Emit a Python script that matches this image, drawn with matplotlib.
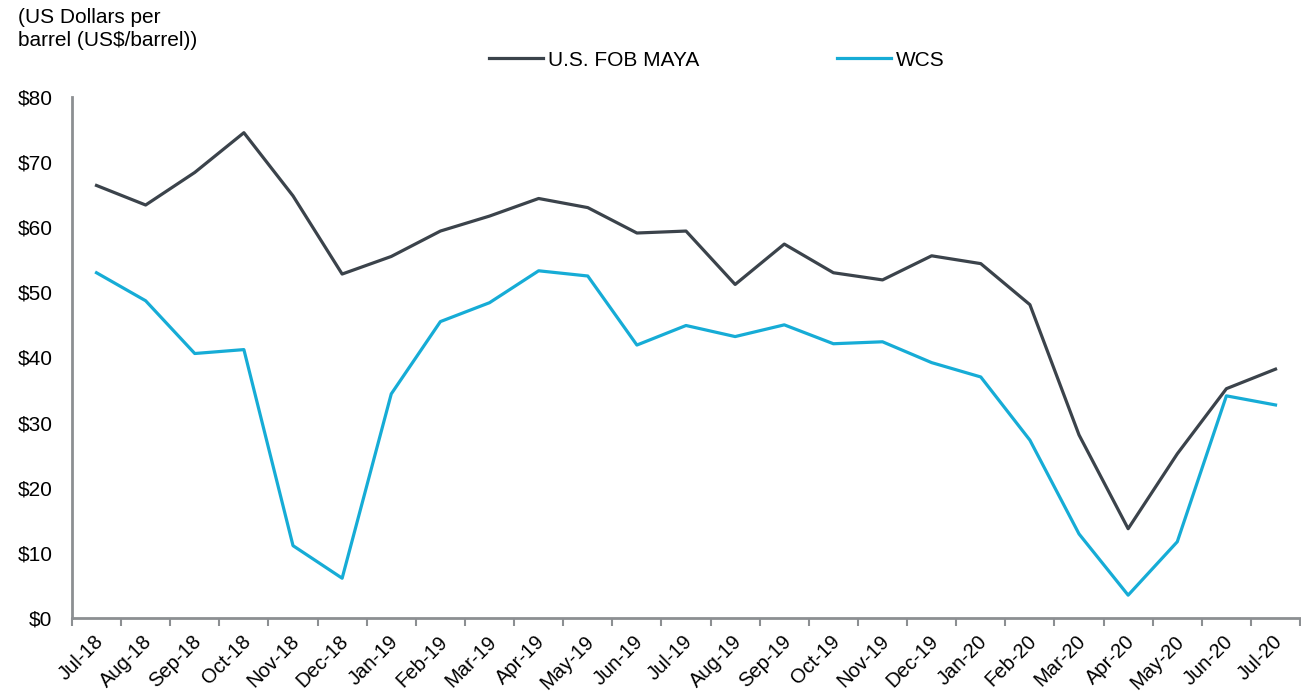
import matplotlib.pyplot as plt
import matplotlib.transforms as mtransforms
import numpy as np

plt.rcParams['font.family'] = ['Liberation Sans', 'DejaVu Sans']

months = ['Jul-18', 'Aug-18', 'Sep-18', 'Oct-18', 'Nov-18', 'Dec-18',
          'Jan-19', 'Feb-19', 'Mar-19', 'Apr-19', 'May-19', 'Jun-19',
          'Jul-19', 'Aug-19', 'Sep-19', 'Oct-19', 'Nov-19', 'Dec-19',
          'Jan-20', 'Feb-20', 'Mar-20', 'Apr-20', 'May-20', 'Jun-20', 'Jul-20']
maya = [66.4, 63.4, 68.4, 74.5, 64.8, 52.8, 55.5, 59.4, 61.7, 64.4, 63.0, 59.1,
        59.4, 51.2, 57.4, 53.0, 51.9, 55.6, 54.4, 48.1, 28.1, 13.7, 25.2, 35.2, 38.2]
wcs = [53.0, 48.7, 40.6, 41.2, 11.1, 6.1, 34.4, 45.5, 48.4, 53.3, 52.5, 41.9,
       44.9, 43.2, 45.0, 42.1, 42.4, 39.2, 37.0, 27.3, 12.9, 3.5, 11.7, 34.1, 32.7]
yticks = [0, 10, 20, 30, 40, 50, 60, 70, 80]

fig = plt.figure(figsize=(13.01, 6.92), dpi=100)
ax = fig.add_axes([0.0553, 0.107, 0.944, 0.753])

x = np.arange(len(months))
ax.plot(x, maya, color='#3b434b', lw=2.3, label='U.S. FOB MAYA')
ax.plot(x, wcs, color='#16acd6', lw=2.3, label='WCS')

ax.set_xlim(-0.5, len(months) - 0.5)
ax.set_ylim(0, 80)
ax.set_yticks(yticks)
ax.set_yticklabels([f'${v}' for v in yticks], fontsize=15)
ax.tick_params(axis='y', length=0, pad=14)

# ticks at category boundaries, labels at centers
ax.set_xticks(np.arange(len(months) + 1) - 0.5)
ax.set_xticklabels([])
ax.tick_params(axis='x', which='major', length=6, width=1.5, color='#8c8f92', direction='out')
ax.set_xticks(x, minor=True)
ax.set_xticklabels(months, minor=True, rotation=45, ha='right',
                   rotation_mode='anchor', fontsize=14.5)
ax.tick_params(axis='x', which='minor', length=0, pad=10)
shift = mtransforms.ScaledTranslation(-3 / 100, 0, fig.dpi_scale_trans)
for lbl in ax.get_xticklabels(minor=True):
    lbl.set_transform(lbl.get_transform() + shift)

for s in ['top', 'right']:
    ax.spines[s].set_visible(False)
for s in ['left', 'bottom']:
    ax.spines[s].set_color('#8c8f92')
    ax.spines[s].set_linewidth(2)

fig.text(0.014, 0.988, '(US Dollars per\nbarrel (US$/barrel))', fontsize=15,
         va='top', ha='left', linespacing=1.25)

fig.legend(loc='center', bbox_to_anchor=(0.551, 0.913), ncol=2, frameon=False,
           fontsize=15, handlelength=2.6, handletextpad=0.25, columnspacing=6.6)

plt.savefig('out.png', dpi=100)
